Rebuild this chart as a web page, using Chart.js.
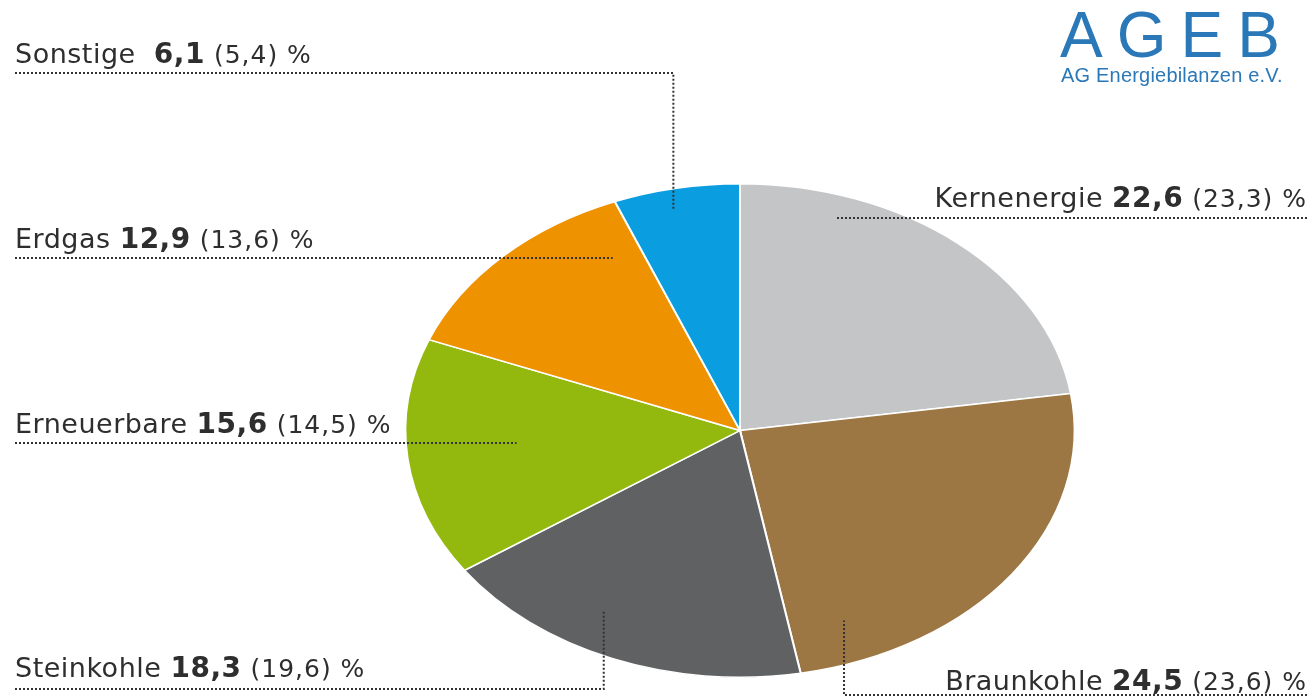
<!DOCTYPE html>
<html>
<head>
<meta charset="utf-8">
<script src="https://cdn.jsdelivr.net/npm/chart.js@4"></script>
<style>
  html, body { margin: 0; padding: 0; background: #fff; }
  #wrap { position: relative; width: 1315px; height: 696px; }
  #logo { position: absolute; left: 1060px; top: 3px; color: #2b78b8; font-family: "Liberation Sans", Arial, sans-serif; }
  #logo .big { font-size: 64px; letter-spacing: 14px; line-height: 64px; }
  #logo .small { font-size: 20px; margin-top: -3px; margin-left: 1px; letter-spacing: 0.2px; }
</style>
</head>
<body>
<div id="wrap">
  <canvas id="myChart" width="1315" height="696"></canvas>
  <div id="logo"><div class="big">AGEB</div><div class="small">AG Energiebilanzen e.V.</div></div>
</div>
<script>
// Primärenergieverbrauch nach Energieträgern, Anteile in % (Vorjahr in Klammern)
const categories = ['Kernenergie', 'Braunkohle', 'Steinkohle', 'Erneuerbare', 'Erdgas', 'Sonstige'];
const shares = [22.6, 24.5, 18.3, 15.6, 12.9, 6.1];
const previous = [23.3, 23.6, 19.6, 14.5, 13.6, 5.4];
const colors = ['#c4c5c7', '#9c7643', '#5f6163', '#93b90f', '#ef9200', '#0a9ddf'];

// label placement: text position, alignment, leader line y, and where the leader ends inside the slice
const labelLayout = [
  { x: 1307, y: 207, align: 'right', lineY: 218, angle: 18.2, r: 0.91 },
  { x: 1307, y: 690, align: 'right', lineY: 695, angle: 158, r: 0.83 },
  { x: 15, y: 677, align: 'left', lineY: 689, angle: 209, r: 0.84 },
  { x: 15, y: 433, align: 'left', lineY: 443, angle: 265.5, r: 0.67 },
  { x: 15, y: 248, align: 'left', lineY: 258, angle: 331.2, r: 0.79 },
  { x: 15, y: 63, align: 'left', lineY: 73, angle: 347.5, r: 0.92, gap: '  ' }
];

const stretchX = 1.356;

function fmt(v) { return v.toFixed(1).replace('.', ','); }

// stretch the pie horizontally into an ellipse
const ellipsePlugin = {
  id: 'ellipse',
  beforeDatasetsDraw(chart) {
    const arc = chart.getDatasetMeta(0).data[0];
    const ctx = chart.ctx;
    ctx.save();
    ctx.translate(arc.x, 0);
    ctx.scale(stretchX, 1);
    ctx.translate(-arc.x, 0);
  },
  afterDatasetsDraw(chart) {
    chart.ctx.restore();
  }
};

// text labels with dotted leader lines
const labelPlugin = {
  id: 'leaderLabels',
  afterDraw(chart) {
    const ctx = chart.ctx;
    const meta = chart.getDatasetMeta(0);
    const arc0 = meta.data[0];
    const cx = arc0.x, cy = arc0.y, R = arc0.outerRadius;
    ctx.save();
    labelLayout.forEach((l, i) => {
      const a = l.angle * Math.PI / 180;
      const ax = cx + Math.sin(a) * l.r * R * stretchX;
      const ay = cy - Math.cos(a) * l.r * R;

      const parts = [
        { t: categories[i] + (l.gap || ' '), f: '27px "DejaVu Sans"', ls: '0.5px' },
        { t: fmt(shares[i]), f: 'bold 28px "DejaVu Sans"', ls: '0.5px' },
        { t: ' (' + fmt(previous[i]) + ') %', f: '25px "DejaVu Sans"', ls: '1px' }
      ];
      let total = 0;
      parts.forEach(p => {
        ctx.font = p.f; ctx.letterSpacing = p.ls;
        p.w = ctx.measureText(p.t).width; total += p.w;
      });
      let x = l.align === 'right' ? l.x - total : l.x;
      ctx.fillStyle = '#2e2e2e';
      ctx.textBaseline = 'alphabetic';
      ctx.textAlign = 'left';
      parts.forEach(p => {
        ctx.font = p.f; ctx.letterSpacing = p.ls;
        ctx.fillText(p.t, x, l.y); x += p.w;
      });
      ctx.letterSpacing = '0px';

      // leader line: along under the text, then up/down into the slice
      ctx.strokeStyle = '#333';
      ctx.lineWidth = 2;
      ctx.setLineDash([2, 2]);
      ctx.beginPath();
      ctx.moveTo(l.x, l.lineY);
      ctx.lineTo(ax, l.lineY);
      if (Math.abs(ay - l.lineY) > 3) ctx.lineTo(ax, ay);
      ctx.stroke();
    });
    ctx.restore();
  }
};

const ctx = document.getElementById('myChart').getContext('2d');
const myChart = new Chart(ctx, {
  type: 'pie',
  data: {
    labels: categories,
    datasets: [{
      data: shares,
      backgroundColor: colors,
      borderColor: '#ffffff',
      borderWidth: 1.5
    }]
  },
  options: {
    responsive: false,
    animation: false,
    events: [],
    layout: { padding: { top: 183, bottom: 18, left: 400, right: 235 } },
    plugins: {
      legend: { display: false },
      tooltip: { enabled: false }
    }
  },
  plugins: [ellipsePlugin, labelPlugin]
});
</script>
</body>
</html>
